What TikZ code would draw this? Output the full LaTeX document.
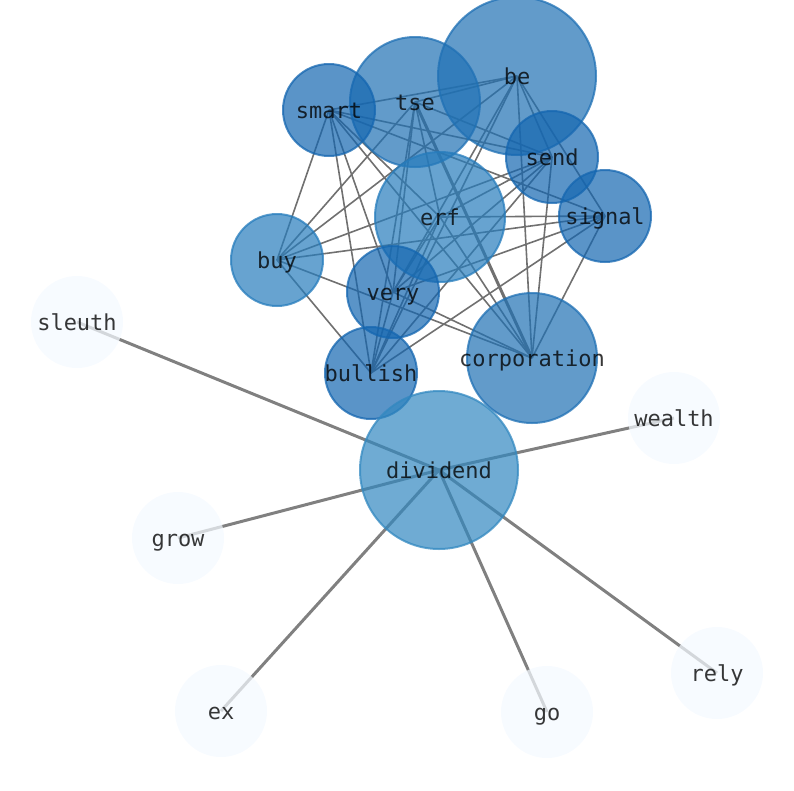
\documentclass[tikz,border=0pt]{standalone}
\usepackage{fontspec}
\newfontfamily\labelfont{DejaVu Sans Mono}
\definecolor{cA}{RGB}{20,102,176}
\definecolor{cB}{RGB}{31,112,180}
\definecolor{cC}{RGB}{38,124,188}
\definecolor{cD}{RGB}{50,136,192}
\definecolor{cP}{RGB}{244,249,255}
\definecolor{edgegray}{RGB}{112,112,112}
\definecolor{divgray}{RGB}{128,128,128}
\tikzset{
  cedge/.style={draw=edgegray,line width=1.6pt},
  tedge/.style={draw=edgegray,line width=3pt},
  dedge/.style={draw=divgray,line width=3pt},
  blob/.style={circle,inner sep=0pt,fill=#1,fill opacity=0.7,draw=#1,draw opacity=0.75,line width=2pt},
  pblob/.style={circle,inner sep=0pt,fill=cP,fill opacity=0.72,draw=none},
  small/.style={minimum size=92pt},
  mid/.style={minimum size=130pt},
  big/.style={minimum size=158pt},
  lbl/.style={font=\labelfont\fontsize{22}{26}\selectfont,text=black,text opacity=0.78,inner sep=0pt,text height=18pt,text depth=2pt}
}
\begin{document}
\begin{tikzpicture}[x=1pt,y=-1pt]
\useasboundingbox (0,0) rectangle (794,790);
% centres
\coordinate (be) at (517,76);
\coordinate (tse) at (415,102);
\coordinate (smart) at (329,110);
\coordinate (send) at (552,157);
\coordinate (signal) at (605,216);
\coordinate (erf) at (440,217);
\coordinate (buy) at (277,260);
\coordinate (very) at (393,292);
\coordinate (corporation) at (532,358);
\coordinate (bullish) at (371,373);
\coordinate (dividend) at (439,470);
\coordinate (sleuth) at (77,322);
\coordinate (wealth) at (674,418);
\coordinate (grow) at (178,538);
\coordinate (ex) at (221,711);
\coordinate (go) at (547,712);
\coordinate (rely) at (717,673);
% cluster edges
\foreach \a/\b in {smart/be,smart/send,smart/signal,smart/buy,smart/very,smart/bullish,smart/corporation,smart/erf,
  tse/be,tse/send,tse/buy,tse/very,tse/bullish,tse/erf,
  be/send,be/signal,be/very,be/bullish,be/corporation,be/buy,
  send/erf,send/very,send/bullish,send/corporation,send/buy,
  signal/erf,signal/buy,signal/very,signal/bullish,signal/corporation,
  erf/very,erf/bullish,erf/corporation,
  buy/bullish,buy/corporation,very/bullish,very/corporation}
  \draw[cedge] (\a) -- (\b);
\draw[tedge] (tse) -- (corporation);
% dividend edges
\foreach \b in {sleuth,wealth,grow,ex,go,rely}
  \draw[dedge] (dividend) -- (\b);
% nodes
\node[blob=cB,big] (nbe) at (be) {};
\node[blob=cB,mid] (ntse) at (tse) {};
\node[blob=cA,small] (nsmart) at (smart) {};
\node[blob=cA,small] (nsend) at (send) {};
\node[blob=cA,small] (nsignal) at (signal) {};
\node[blob=cC,mid] (nerf) at (erf) {};
\node[blob=cC,small] (nbuy) at (buy) {};
\node[blob=cA,small] (nvery) at (very) {};
\node[blob=cB,mid] (ncorporation) at (corporation) {};
\node[blob=cA,small] (nbullish) at (bullish) {};
\node[blob=cD,big] (ndividend) at (dividend) {};
\foreach \p in {sleuth,wealth,grow,ex,go,rely}
  \node[pblob,small] (n\p) at (\p) {};
% labels
\foreach \p in {be,tse,smart,send,signal,erf,buy,very,corporation,bullish,dividend,sleuth,wealth,grow,ex,go,rely}
  \node[lbl] (t\p) at (\p) {\p};
\end{tikzpicture}
\end{document}
